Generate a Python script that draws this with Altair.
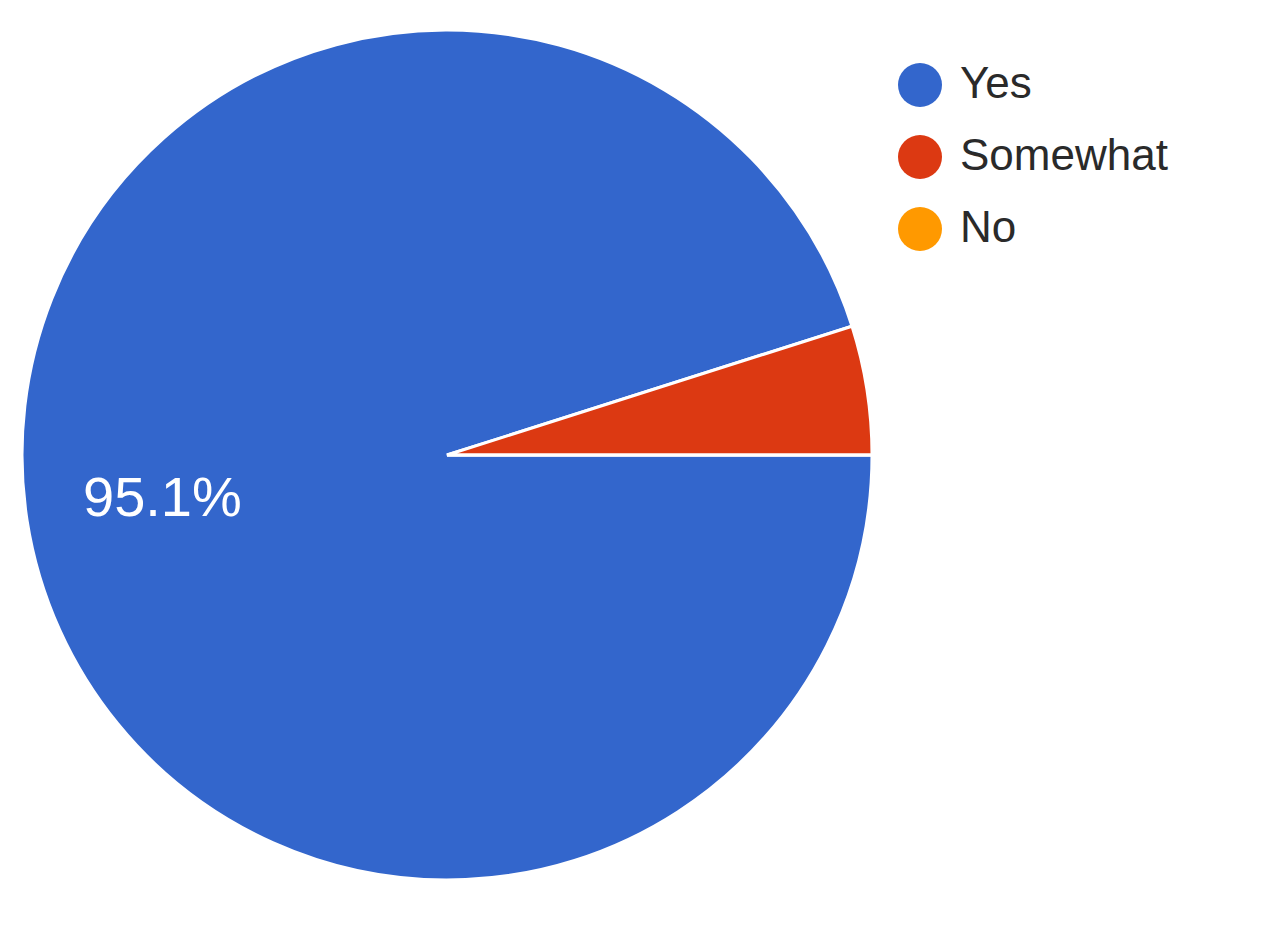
import math
import altair as alt
import pandas as pd

categories = ["Yes", "Somewhat", "No"]
values = [95.1, 4.9, 0.0]
colors = ["#3366cc", "#dc3912", "#ff9900"]
order = [0, 1, 2]
labels = [f"{v}%" if v >= 5 else "" for v in values]

df = pd.DataFrame({"answer": categories, "value": values, "label": labels, "order": order})

theta_scale = alt.Scale(range=[math.pi / 2, math.pi / 2 + 2 * math.pi])

base = alt.Chart(df).encode(
    theta=alt.Theta("value:Q", stack=True, scale=theta_scale),
    order=alt.Order("order:Q"),
    x=alt.value(439),
    y=alt.value(447),
)

pie = base.mark_arc(radius=425, stroke="white", strokeWidth=3).encode(
    color=alt.Color(
        "answer:N",
        scale=alt.Scale(domain=categories, range=colors),
        sort=categories,
        legend=alt.Legend(
            orient="none",
            legendX=890,
            legendY=55,
            title=None,
            symbolType="circle",
            symbolSize=1936,
            symbolStrokeWidth=0,
            labelFontSize=44,
            labelFont="Liberation Sans",
            labelColor="#2a2a2a",
            labelLimit=0,
            labelOffset=18,
            rowPadding=28,
        ),
    )
)

text = base.mark_text(
    radius=288, fontSize=56, color="white", font="Liberation Sans"
).encode(text="label:N")

chart = (
    alt.layer(pie, text)
    .properties(width=1264, height=911, autosize="none", padding=0, background="white")
    .configure_view(stroke=None)
)

chart.save("out.html", embed_options={"renderer": "svg", "actions": False})
